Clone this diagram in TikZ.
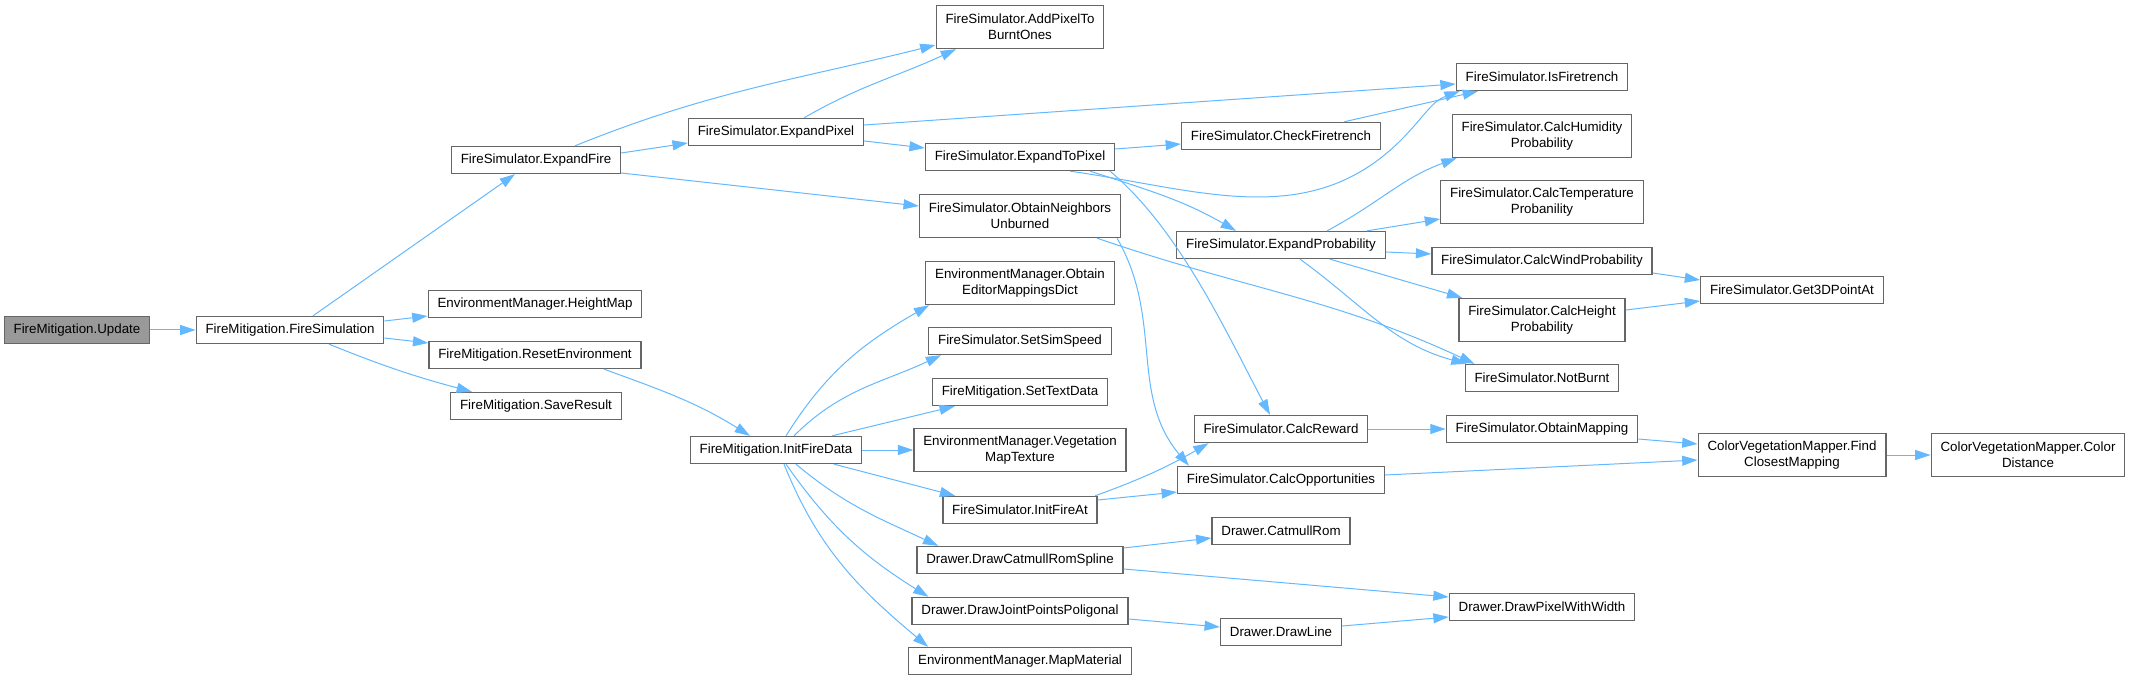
\documentclass[tikz,border=0pt]{standalone}
\usepackage{fontspec}
\setmainfont{Liberation Sans}
\usetikzlibrary{arrows.meta, calc}
\definecolor{edgeblue}{HTML}{63B8FF}
\definecolor{boxgray}{HTML}{666666}
\definecolor{rootgray}{HTML}{999999}

\begin{document}
\begin{tikzpicture}[x=0.75pt, y=-0.75pt, line width=0.75pt,
    font=\fontsize{10}{12}\selectfont,
    % --- styles ---
    func_box/.style={draw=boxgray, fill=white, line width=1pt, inner xsep=7pt, inner ysep=0pt,
        minimum height=20.25pt, align=center},
    func_two/.style={func_box, minimum height=32.25pt},
    % the graph's root (grey)
    root_box/.style={func_box, fill=rootgray},
    % call edge
    call/.style={draw=edgeblue, -{Triangle[length=11.5pt, width=7.5pt]}}
]
    \useasboundingbox (0,0) rectangle (2129,680);

    % =========================================
    % column 1-3: entry point
    % =========================================
    \node[root_box] (upd) at (77,330) {FireMitigation.Update};
    \node[func_box] (fire_sim) at (290,330) {FireMitigation.FireSimulation};

    \node[func_box] (expand_fire) at (536,160) {FireSimulator.ExpandFire};
    \node[func_box] (height_map) at (535,304) {EnvironmentManager.HeightMap};
    \node[func_box] (reset_env) at (535,355) {FireMitigation.ResetEnvironment};
    \node[func_box] (save_res) at (536,406) {FireMitigation.SaveResult};

    % =========================================
    % column 4-5
    % =========================================
    \node[func_box] (expand_pixel) at (776,132) {FireSimulator.ExpandPixel};
    \node[func_box] (init_data) at (776,450) {FireMitigation.InitFireData};

    \node[func_two] (add_pixel) at (1020,27) {FireSimulator.AddPixelTo\\BurntOnes};
    \node[func_box] (expand_to_pixel) at (1020,157) {FireSimulator.ExpandToPixel};
    \node[func_two] (obtain_nb) at (1020,216) {FireSimulator.ObtainNeighbors\\Unburned};
    \node[func_two] (edit_map) at (1020,283) {EnvironmentManager.Obtain\\EditorMappingsDict};
    \node[func_box] (sim_speed) at (1020,341) {FireSimulator.SetSimSpeed};
    \node[func_box] (set_text) at (1020,392) {FireMitigation.SetTextData};
    \node[func_two] (veg_map) at (1020,450) {EnvironmentManager.Vegetation\\MapTexture};
    \node[func_box] (init_at) at (1020,510) {FireSimulator.InitFireAt};
    \node[func_box] (draw_spline) at (1020,560) {Drawer.DrawCatmullRomSpline};
    \node[func_box] (draw_joint) at (1020,611) {Drawer.DrawJointPointsPoligonal};
    \node[func_box] (map_mat) at (1020,661) {EnvironmentManager.MapMaterial};

    % =========================================
    % column 6
    % =========================================
    \node[func_box] (check_ft) at (1281,136) {FireSimulator.CheckFiretrench};
    \node[func_box] (expand_prob) at (1281,245) {FireSimulator.ExpandProbability};
    \node[func_box] (calc_reward) at (1281,429) {FireSimulator.CalcReward};
    \node[func_box] (calc_opp) at (1281,480) {FireSimulator.CalcOpportunities};
    \node[func_box] (catmull) at (1281,531) {Drawer.CatmullRom};
    \node[func_box] (draw_line) at (1281,632) {Drawer.DrawLine};

    % =========================================
    % column 7-9
    % =========================================
    \node[func_box] (is_ft) at (1542,77) {FireSimulator.IsFiretrench};
    \node[func_two] (calc_hum) at (1542,136) {FireSimulator.CalcHumidity\\Probability};
    \node[func_two] (calc_temp) at (1542,202) {FireSimulator.CalcTemperature\\Probanility};
    \node[func_box] (calc_wind) at (1542,261) {FireSimulator.CalcWindProbability};
    \node[func_two] (calc_height) at (1542,320) {FireSimulator.CalcHeight\\Probability};
    \node[func_box] (not_burnt) at (1542,378) {FireSimulator.NotBurnt};
    \node[func_box] (obtain_map) at (1542,429) {FireSimulator.ObtainMapping};
    \node[func_box] (pixel_width) at (1542,607) {Drawer.DrawPixelWithWidth};

    \node[func_box] (get_3d) at (1792,290) {FireSimulator.Get3DPointAt};
    \node[func_two] (find_map) at (1792,455) {ColorVegetationMapper.Find\\ClosestMapping};
    \node[func_two] (color_dist) at (2028,455) {ColorVegetationMapper.Color\\Distance};

    % =========================================
    % calls
    % =========================================
    \draw[call] (upd) -- (fire_sim);
    \draw[call] ($(fire_sim.north)+(23,0)$) -- ($(expand_fire.south)+(-21,0)$);
    \draw[call] ($(fire_sim.east)+(0,-9)$) -- ($(height_map.west)+(0,12)$);
    \draw[call] ($(fire_sim.east)+(0,8)$) -- ($(reset_env.west)+(0,-12)$);
    \draw[call] ($(fire_sim.south)+(39,0)$) to[out=-22, in=165] ($(save_res.north)+(-64,0)$);
    \draw[call] ($(reset_env.south)+(69,0)$) to[out=-20, in=148] ($(init_data.north)+(-26,0)$);

    % ExpandFire
    \draw[call] ($(expand_fire.north)+(39,0)$) to[out=22, in=194] ($(add_pixel.west)+(0,18)$);
    \draw[call] ($(expand_fire.east)+(0,-7)$) -- ($(expand_pixel.west)+(0,11)$);
    \draw[call] ($(expand_fire.east)+(0,13)$) -- ($(obtain_nb.west)+(0,-10)$);

    % ExpandPixel
    \draw[call] ($(expand_pixel.north)+(28,0)$) to[out=30, in=-155] ($(add_pixel.south)+(-64,0)$);
    \draw[call] ($(expand_pixel.east)+(0,-7)$) -- ($(is_ft.west)+(0,7)$);
    \draw[call] ($(expand_pixel.east)+(0,9)$) -- ($(expand_to_pixel.west)+(0,-9)$);

    % ExpandToPixel
    \draw[call] ($(expand_to_pixel.east)+(0,-8)$) -- ($(check_ft.west)+(0,8)$);
    \draw[call] ($(expand_to_pixel.south)+(50,0)$) to[out=-8, in=-135] ($(check_ft.east)+(20,4)$)
        to[out=45, in=200] ($(is_ft.south west)+(4,0)$);
    \draw[call] ($(expand_to_pixel.south)+(70,0)$) to[out=-18, in=150] ($(expand_prob.north)+(-45,0)$);
    \draw[call] ($(expand_to_pixel.south)+(90,0)$) to[out=-40, in=118, looseness=0.8] ($(calc_reward.north)+(-11,0)$);
    \draw[call] ($(check_ft.north)+(63,0)$) -- ($(is_ft.south)+(-64,0)$);

    % ObtainNeighborsUnburned
    \draw[call] ($(obtain_nb.south)+(77,0)$) to[out=-19, in=155] ($(not_burnt.north west)+(10,0)$);
    \draw[call] ($(obtain_nb.south)+(97,0)$) to[out=-60, in=130] ($(calc_opp.north west)+(12,0)$);

    % ExpandProbability
    \draw[call] ($(expand_prob.north)+(46,0)$) to[out=28, in=200] ($(calc_hum.south west)+(5,0)$);
    \draw[call] ($(expand_prob.north)+(86,0)$) -- ($(calc_temp.west)+(0,17)$);
    \draw[call] ($(expand_prob.east)+(0,7)$) -- ($(calc_wind.west)+(0,-7)$);
    \draw[call] ($(expand_prob.south)+(49,0)$) -- ($(calc_height.north west)+(4,0)$);
    \draw[call] ($(expand_prob.south)+(19,0)$) to[out=-36, in=165] ($(not_burnt.north west)+(2,0)$);
    \draw[call] ($(calc_wind.east)+(0,12)$) -- ($(get_3d.west)+(0,-10)$);
    \draw[call] ($(calc_height.east)+(0,-10)$) -- ($(get_3d.west)+(0,11)$);

    % InitFireData
    \draw[call] ($(init_data.north)+(10,0)$) to[out=58, in=-150] ($(edit_map.south west)+(4,0)$);
    \draw[call] ($(init_data.north)+(18,0)$) to[out=45, in=-155] ($(sim_speed.south west)+(13,0)$);
    \draw[call] ($(init_data.north)+(56,0)$) -- ($(set_text.south west)+(23,0)$);
    \draw[call] (init_data.east) -- (veg_map.west);
    \draw[call] ($(init_data.south)+(58,0)$) -- ($(init_at.north west)+(13,0)$);
    \draw[call] ($(init_data.south)+(20,0)$) to[out=-40, in=155] ($(draw_spline.north west)+(22,0)$);
    \draw[call] ($(init_data.south)+(10,0)$) to[out=-55, in=148] ($(draw_joint.north west)+(17,0)$);
    \draw[call] ($(init_data.south)+(8,0)$) to[out=-68, in=140] ($(map_mat.north west)+(20,0)$);

    % InitFireAt
    \draw[call] ($(init_at.north)+(75,0)$) to[out=20, in=-150] ($(calc_reward.south west)+(15,0)$);
    \draw[call] ($(init_at.east)+(0,-10)$) -- ($(calc_opp.west)+(0,12)$);

    % mapping
    \draw[call] (calc_reward) -- (obtain_map);
    \draw[call] ($(obtain_map.east)+(0,10)$) -- ($(find_map.west)+(0,-11)$);
    \draw[call] ($(calc_opp.east)+(0,-5)$) -- ($(find_map.west)+(0,5)$);
    \draw[call] (find_map) -- (color_dist);

    % drawing
    \draw[call] ($(draw_spline.east)+(0,-12)$) -- ($(catmull.west)+(0,7)$);
    \draw[call] ($(draw_spline.east)+(0,9)$) -- ($(pixel_width.west)+(0,-10)$);
    \draw[call] ($(draw_joint.east)+(0,8)$) -- ($(draw_line.west)+(0,-5)$);
    \draw[call] ($(draw_line.east)+(0,-6)$) -- ($(pixel_width.west)+(0,10)$);

\end{tikzpicture}
\end{document}
